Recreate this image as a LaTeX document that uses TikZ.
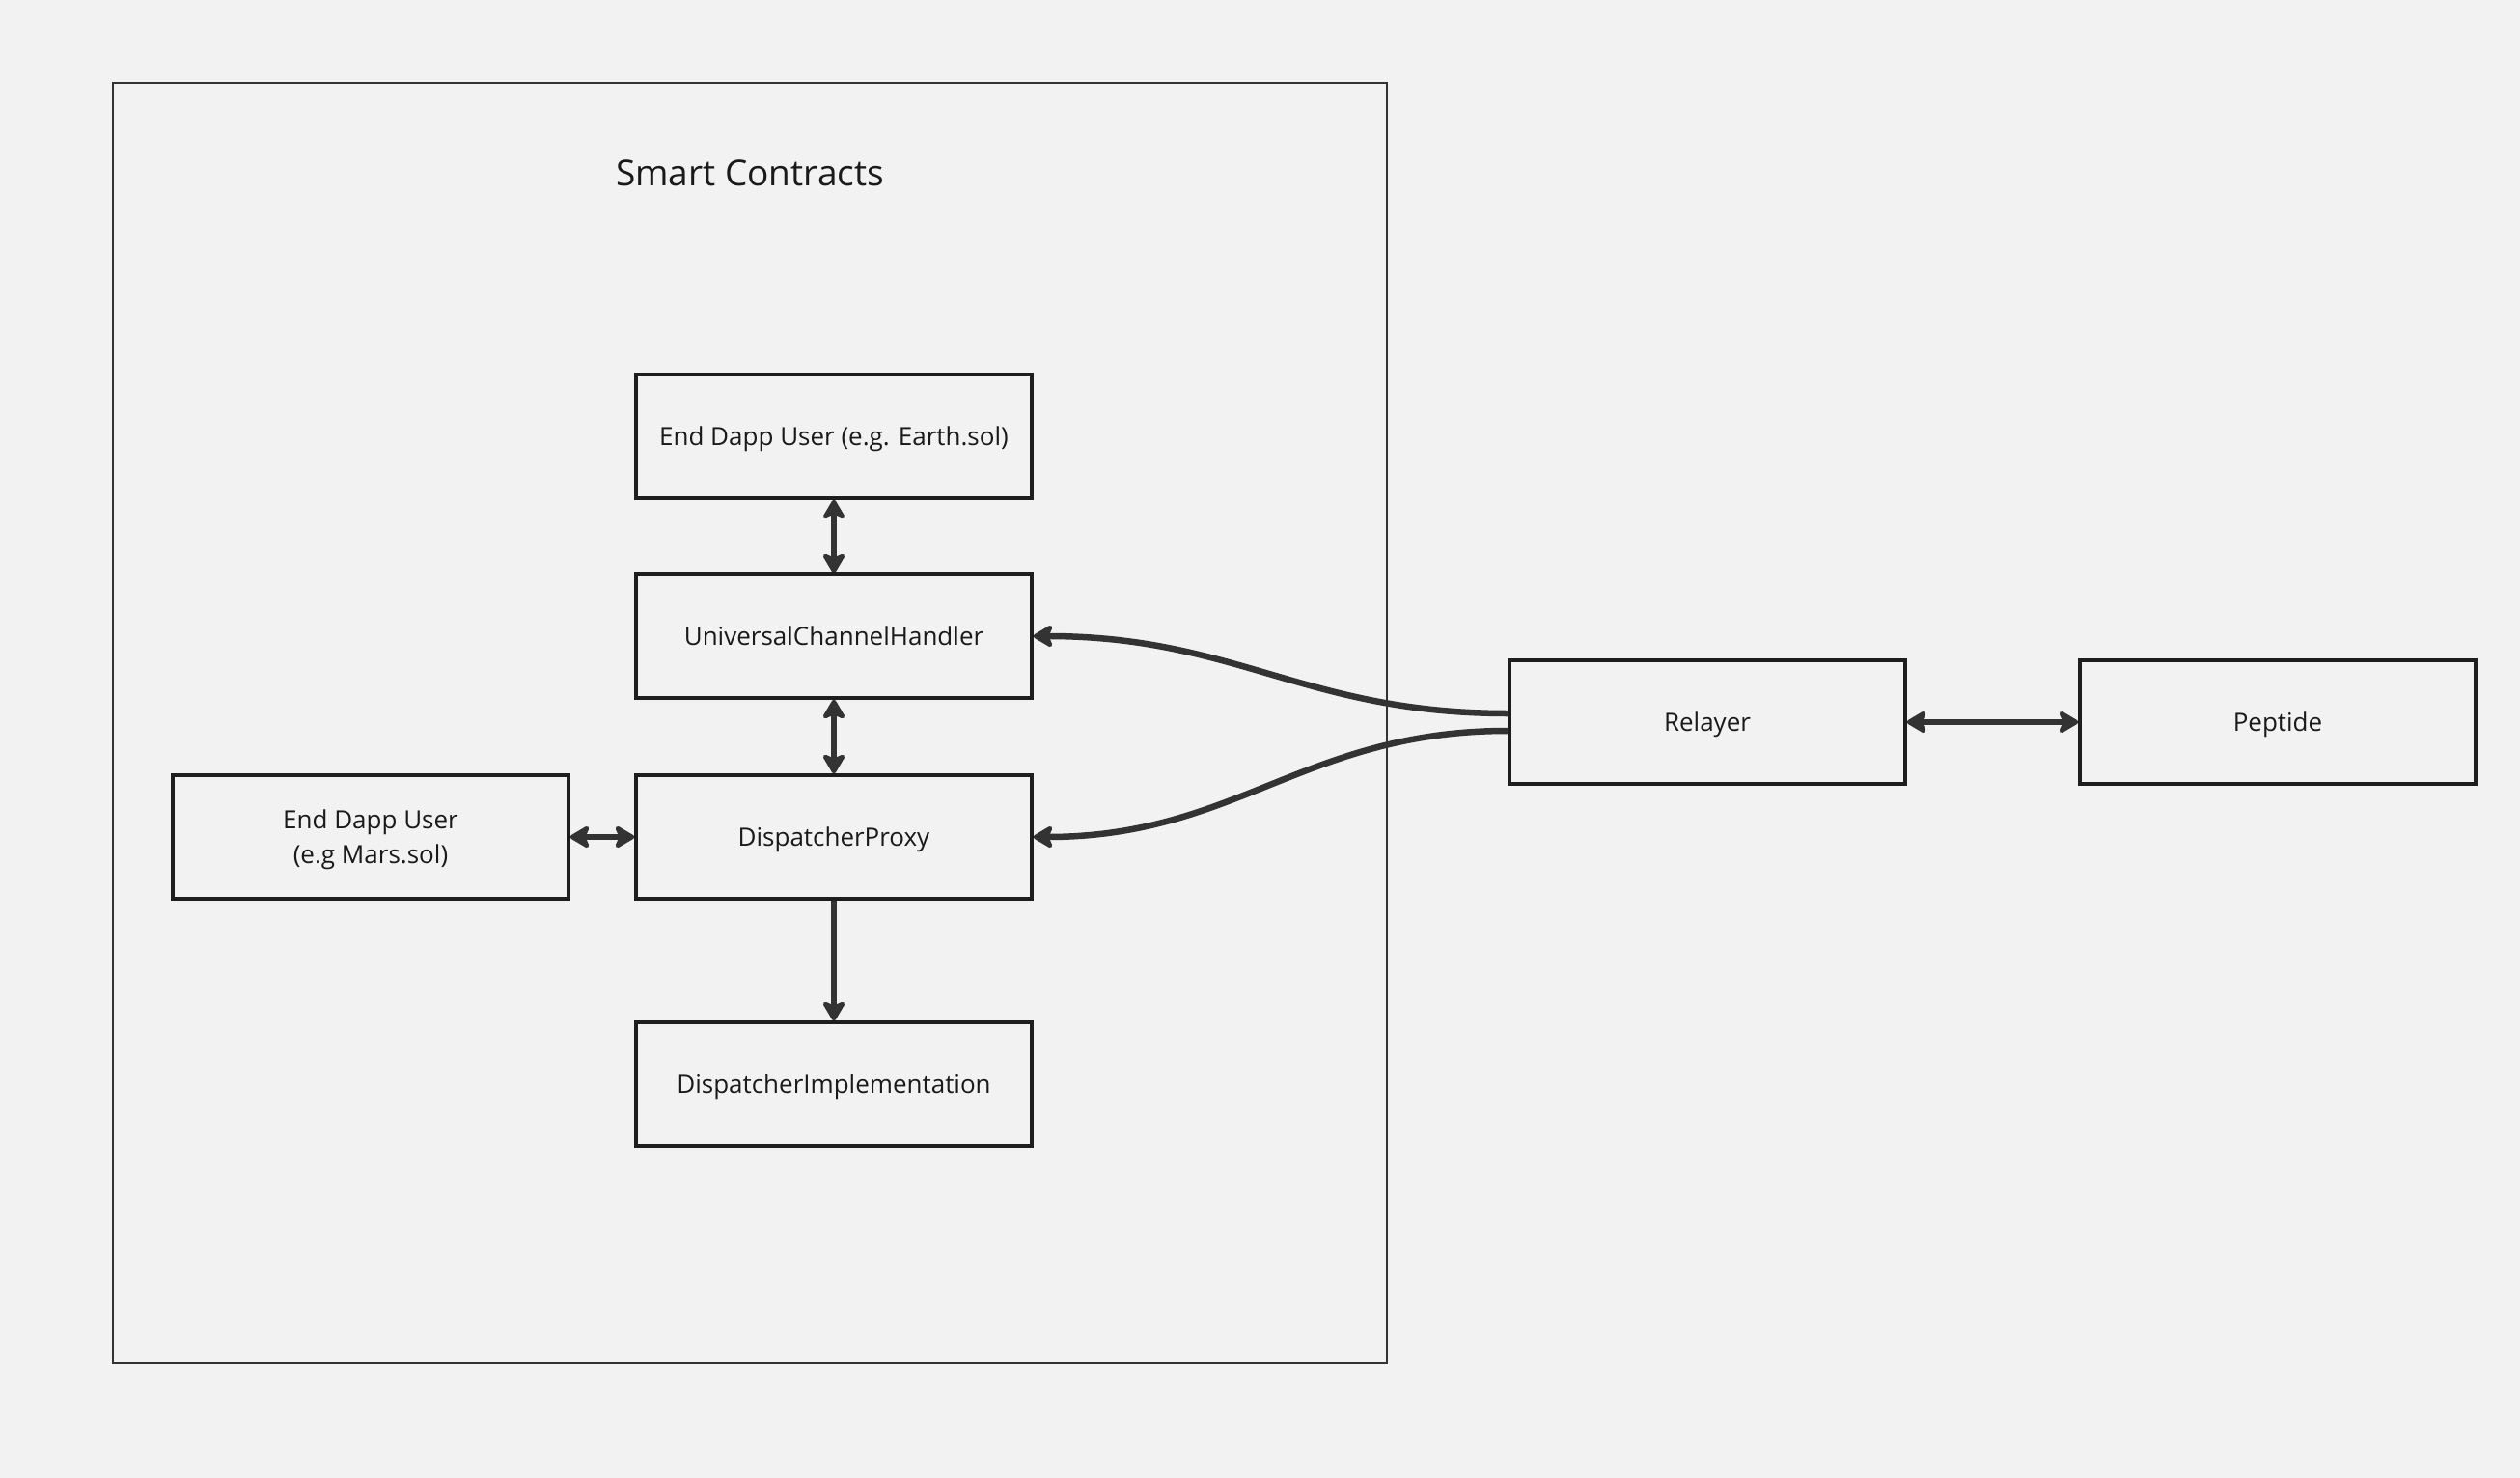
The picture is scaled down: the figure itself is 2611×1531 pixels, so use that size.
\documentclass[tikz,border=0pt]{standalone}
\usepackage{fontspec}
\setmainfont{Open Sans}
\usetikzlibrary{arrows.meta}
\definecolor{bg}{HTML}{F2F2F2}
\definecolor{ln}{HTML}{333333}
\definecolor{bx}{HTML}{1E1E1E}
\definecolor{tx}{HTML}{1A1A1A}
\begin{document}
\begin{tikzpicture}[x=1pt,y=-1pt,
  blk/.style={draw=bx,line width=3.5pt,minimum width=410pt,minimum height=128pt,inner sep=0pt,
    align=center,font=\fontsize{26}{36}\selectfont,text=tx,text depth=0pt},
  conn/.style={draw=ln,line width=6.5pt,
    arrows={-Stealth[length=24pt,width=28pt,inset=6pt,round]}},
  bconn/.style={draw=ln,line width=6.5pt,
    arrows={Stealth[length=24pt,width=28pt,inset=6pt,round]-Stealth[length=24pt,width=28pt,inset=6pt,round]}}]
\useasboundingbox (0,0) rectangle (2611,1531);
\fill[bg] (0,0) rectangle (2611,1531);
\draw[ln,line width=1.6pt] (117,86) rectangle (1437,1412);
\node[font=\fontsize{37}{44}\selectfont,text=tx] (title) at (777,179) {Smart Contracts};
\node[blk] (earth) at (864,452) {End Dapp User (e.g. Earth.sol)};
\node[blk] (uch) at (864,659) {UniversalChannelHandler};
\node[blk] (dp) at (864,867) {DispatcherProxy};
\node[blk] (di) at (864,1123) {DispatcherImplementation};
\node[blk] (mars) at (384,867) {End Dapp User\\(e.g Mars.sol)};
\node[blk] (rel) at (1769,748) {Relayer};
\node[blk] (pep) at (2360,748) {Peptide};
\draw[bconn] (earth.south) -- (uch.north);
\draw[bconn] (uch.south) -- (dp.north);
\draw[bconn] (mars.east) -- (dp.west);
\draw[conn] (dp.south) -- (di.north);
\draw[bconn] (rel.east) -- (pep.west);
\coordinate (r1) at ([yshift=9pt]rel.west);
\coordinate (r2) at ([yshift=-9pt]rel.west);
\draw[conn] (r1) .. controls +(-210,0) and +(210,0) .. (uch.east);
\draw[conn] (r2) .. controls +(-210,0) and +(210,0) .. (dp.east);
\end{tikzpicture}
\end{document}
